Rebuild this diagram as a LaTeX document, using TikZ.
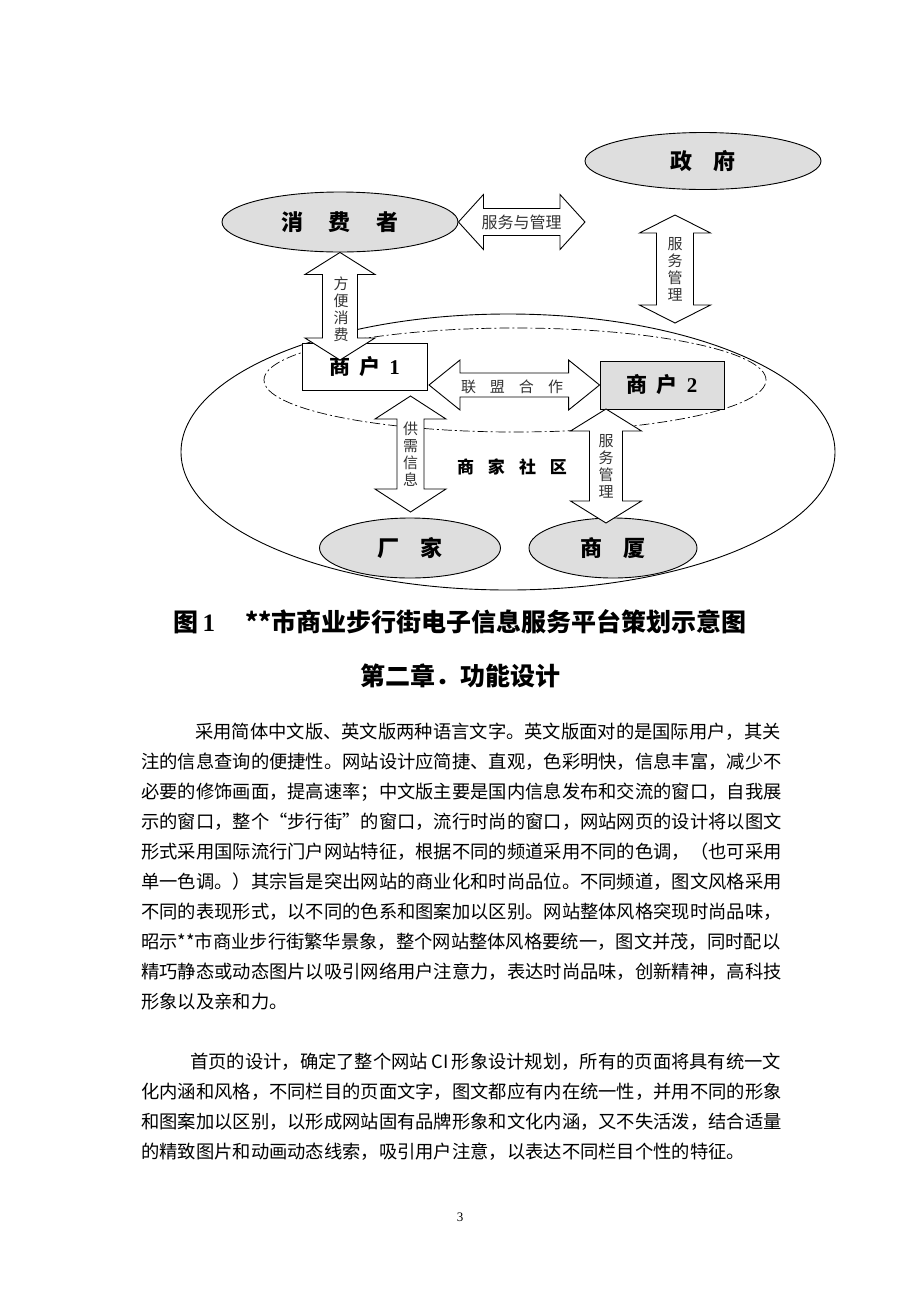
\documentclass[tikz,border=0pt]{standalone}
\usepackage{fontspec}
\setmainfont{Noto Sans CJK SC}
\newfontfamily\numfont{Liberation Serif}
\usetikzlibrary{
    shapes.geometric
  , calc
  , positioning
}
\XeTeXlinebreaklocale "zh"
\XeTeXlinebreakskip=0pt plus 4pt minus 0.6pt
\definecolor{partygray}{gray}{0.87}

% hollow double arrow: start, end, shaft half width, head half width, head length
\newcommand{\blockarrow}[5]{%
  \path (#1) coordinate (ba-s) (#2) coordinate (ba-e);
  \coordinate (ba-a) at ($(ba-s)!#5!(ba-e)$);
  \coordinate (ba-b) at ($(ba-e)!#5!(ba-s)$);
  \draw[arrowbox] (ba-s) -- ($(ba-a)!#4!90:(ba-e)$) -- ($(ba-a)!#3!90:(ba-e)$)
    -- ($(ba-b)!#3!-90:(ba-s)$) -- ($(ba-b)!#4!-90:(ba-s)$) -- (ba-e)
    -- ($(ba-b)!#4!90:(ba-s)$) -- ($(ba-b)!#3!90:(ba-s)$)
    -- ($(ba-a)!#3!-90:(ba-e)$) -- ($(ba-a)!#4!-90:(ba-e)$) -- cycle;
}

\begin{document}
\begin{tikzpicture}[x=1pt, y=-1pt,
    party/.style={draw, ellipse, fill=partygray, line width=0.9pt, inner sep=0pt,
      font=\fontsize{22}{24}\selectfont\bfseries},
    shopbox/.style={draw, rectangle, line width=0.9pt, inner sep=0pt,
      minimum width=125, minimum height=47, font=\fontsize{21}{23}\selectfont\bfseries},
    arrowbox/.style={draw, fill=white, line width=0.9pt, line join=miter},
    arrowlabel/.style={inner sep=0pt, align=center, text=black!80,
      font=\fontsize{15}{17}\selectfont},
    textline/.style={anchor=west, inner sep=0pt, font=\fontsize{18.3}{30}\selectfont}]
  \fill[white] (0,0) rectangle (920,1302);
  \useasboundingbox (0,0) rectangle (920,1302);
  % Business community
  \node[draw, ellipse, line width=0.9pt, inner sep=0pt, minimum width=654, minimum height=276] (community) at (508,452) {};
  \node[draw, ellipse, line width=0.7pt, dash pattern=on 10pt off 3pt on 2pt off 3pt, inner sep=0pt,
    minimum width=502, minimum height=104] (alliance) at (515,380) {};
  \node[inner sep=0pt, font=\fontsize{17}{19}\selectfont\bfseries] (communitylabel) at (512,467)
    {商\hspace{14pt}家\hspace{14pt}社\hspace{14pt}区};
  % Parties
  \node[party, minimum width=236, minimum height=60] (consumer) at (340,222) {消\hspace{26pt}费\hspace{26pt}者};
  \node[party, minimum width=236, minimum height=57] (gov) at (703,161) {政\hspace{21pt}府};
  \node[party, minimum width=181, minimum height=60] (factory) at (410,548) {厂\hspace{21pt}家};
  \node[party, minimum width=168, minimum height=60] (mall) at (613,548) {商\hspace{21pt}厦};
  \node[shopbox, fill=white] (shop1) at (364.5,366.5) {商\hspace{9pt}户\hspace{9pt}{\numfont 1}};
  \node[shopbox, fill=partygray, minimum width=124, minimum height=48] (shop2) at (662,385)
    {商\hspace{9pt}户\hspace{9pt}{\numfont 2}};
  % Arrow ends
  \coordinate (mgmtend) at (585,222);
  \coordinate (govtop) at (675,215);
  \coordinate (govbot) at (675,323);
  \coordinate (buyend) at (340,360);
  \coordinate (allystart) at (429,385);
  \coordinate (supplytop) at (410.5,396);
  \coordinate (supplybot) at (410.5,512);
  \coordinate (servtop) at (606,409);
  \coordinate (servbot) at (606,523);
  % Double arrows
  \blockarrow{consumer.east}{mgmtend}{13.5pt}{27.5pt}{25pt}
  \blockarrow{govtop}{govbot}{18.5pt}{35.5pt}{18pt}
  \blockarrow{consumer.south}{buyend}{17.5pt}{35pt}{22pt}
  \blockarrow{allystart}{shop2.west}{12pt}{25pt}{31pt}
  \blockarrow{supplytop}{supplybot}{13.5pt}{35.5pt}{23pt}
  \blockarrow{servtop}{servbot}{16.5pt}{35.5pt}{22pt}
  % Arrow labels
  \node[arrowlabel, font=\fontsize{16}{18}\selectfont] (mgmtlabel) at ($(consumer.east)!0.5!(mgmtend)$) {服务与管理};
  \node[arrowlabel] (govlabel) at ($(govtop)!0.5!(govbot)$) {服\\务\\管\\理};
  \node[arrowlabel] (buylabel) at (341,309) {方\\便\\消\\费};
  \node[arrowlabel] (allylabel) at (512,387) {联\hspace{14pt}盟\hspace{14pt}合\hspace{14pt}作};
  \node[arrowlabel] (supplylabel) at ($(supplytop)!0.5!(supplybot)$) {供\\需\\信\\息};
  \node[arrowlabel] (servlabel) at ($(servtop)!0.5!(servbot)$) {服\\务\\管\\理};
  % Caption and heading
  \node[inner sep=0pt, font=\fontsize{25}{27}\selectfont\bfseries] (caption) at (460,622)
    {图\,{\numfont 1}\hspace{30pt}**市商业步行街电子信息服务平台策划示意图};
  \node[inner sep=0pt, font=\fontsize{25}{27}\selectfont\bfseries] (chapter) at (460,676) {第二章．功能设计};
  % Body text
  \node[textline] (p1a) at (195,732) {\makebox[586pt][s]{采用简体中文版、英文版两种语言文字。英文版面对的是国际用户，其关}};
  \node[textline] (p1b) at (141,762) {\makebox[640pt][s]{注的信息查询的便捷性。网站设计应简捷、直观，色彩明快，信息丰富，减少不}};
  \node[textline] (p1c) at (141,792) {\makebox[640pt][s]{必要的修饰画面，提高速率；中文版主要是国内信息发布和交流的窗口，自我展}};
  \node[textline] (p1d) at (141,822) {\makebox[640pt][s]{示的窗口，整个“步行街”的窗口，流行时尚的窗口，网站网页的设计将以图文}};
  \node[textline] (p1e) at (141,852) {\makebox[640pt][s]{形式采用国际流行门户网站特征，根据不同的频道采用不同的色调，（也可采用}};
  \node[textline] (p1f) at (141,882) {\makebox[640pt][s]{单一色调。）其宗旨是突出网站的商业化和时尚品位。不同频道，图文风格采用}};
  \node[textline] (p1g) at (141,912) {\makebox[640pt][s]{不同的表现形式，以不同的色系和图案加以区别。网站整体风格突现时尚品味，}};
  \node[textline] (p1h) at (141,942) {\makebox[640pt][s]{昭示**市商业步行街繁华景象，整个网站整体风格要统一，图文并茂，同时配以}};
  \node[textline] (p1i) at (141,972) {\makebox[640pt][s]{精巧静态或动态图片以吸引网络用户注意力，表达时尚品味，创新精神，高科技}};
  \node[textline] (p1j) at (141,1002) {形象以及亲和力。};
  \node[textline] (p2a) at (190,1062) {\makebox[591pt][s]{首页的设计，确定了整个网站 CI 形象设计规划，所有的页面将具有统一文}};
  \node[textline] (p2b) at (141,1092) {\makebox[640pt][s]{化内涵和风格，不同栏目的页面文字，图文都应有内在统一性，并用不同的形象}};
  \node[textline] (p2c) at (141,1122) {\makebox[640pt][s]{和图案加以区别，以形成网站固有品牌形象和文化内涵，又不失活泼，结合适量}};
  \node[textline] (p2d) at (141,1152) {的精致图片和动画动态线索，吸引用户注意，以表达不同栏目个性的特征。};
  % Page number
  \node[inner sep=0pt, font=\fontsize{13}{15}\selectfont\numfont] (pageno) at (460,1217) {3};
\end{tikzpicture}
\end{document}
